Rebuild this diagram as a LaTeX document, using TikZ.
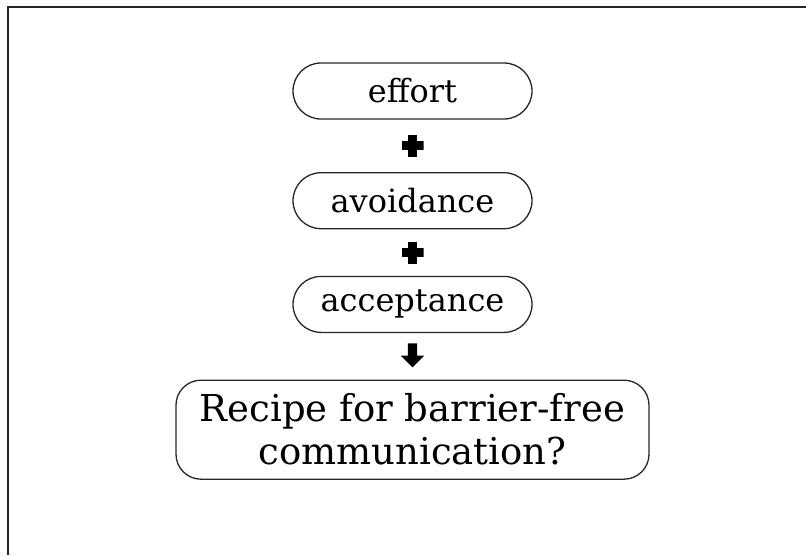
\documentclass[tikz,border=0pt]{standalone}
\usepackage{fontspec}
\setmainfont{DejaVu Serif}
\usetikzlibrary{positioning,shapes.arrows}
\tikzset{
  pill/.style={draw=black!85, line width=1.3pt, rounded corners=28pt, minimum width=239pt, minimum height=56pt, inner sep=0pt, font=\fontsize{32}{38}\selectfont},
  goal/.style={draw=black!85, line width=1.3pt, rounded corners=25pt, minimum width=473pt, minimum height=99pt, inner sep=0pt, align=center, font=\fontsize{37}{43}\selectfont},
  plusmark/.style={minimum size=22pt, inner sep=0pt, path picture={
      \fill ([shift={(-4.5pt,-11pt)}]path picture bounding box.center) rectangle ([shift={(4.5pt,11pt)}]path picture bounding box.center);
      \fill ([shift={(-11pt,-4.5pt)}]path picture bounding box.center) rectangle ([shift={(11pt,4.5pt)}]path picture bounding box.center);}},
  downmark/.style={single arrow, fill=black, draw=none, shape border rotate=270, minimum height=24pt, inner sep=4.5pt, single arrow head extend=7pt},
  frameline/.style={line width=2pt, black!85}
}
\begin{document}
\begin{tikzpicture}[node distance=15pt]
  \useasboundingbox (0,0) rectangle (806pt,-555pt);
  \draw[frameline] (8pt,-555pt) -- (8pt,-7pt) -- (806pt,-7pt);
  \node[pill] (effort) at (412.5pt,-91pt) {effort};
  \node[plusmark, below=of effort] (plusa) {};
  \node[pill, below=of plusa] (avoid) {avoidance};
  \node[plusmark, below=12pt of avoid] (plusb) {};
  \node[pill, below=12pt of plusb] (accept) {acceptance};
  \node[downmark, below=10pt of accept] (down) {};
  \node[goal, below=12pt of down] (recipe) {Recipe for barrier-free\\communication?};
\end{tikzpicture}
\end{document}
